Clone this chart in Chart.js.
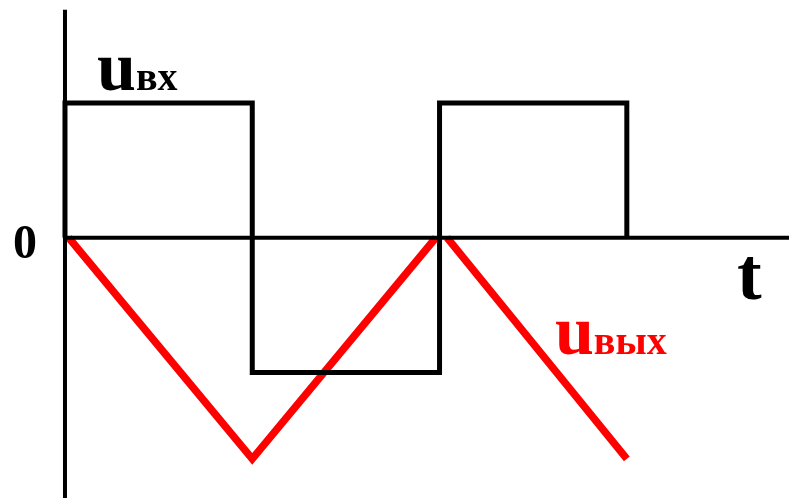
<!DOCTYPE html>
<html>
<head>
<meta charset="utf-8">
<script src="https://cdn.jsdelivr.net/npm/chart.js@4.4.1/dist/chart.umd.min.js"></script>
<style>
  html, body { margin: 0; padding: 0; background: #fff; }
  #wrap { width: 789px; height: 498px; }
</style>
</head>
<body>
<div id="wrap"><canvas id="chart"></canvas></div>
<script>
// time in half-periods, voltage in units of input amplitude
const inT  = [0, 0, 1, 1, 2, 2, 3, 3];
const inU  = [0, 1, 1, -1, -1, 1, 1, 0];
const outT = [0.02, 1.0, 1.98, 2.01, 2.04, 3.0];
const outU = [0, -1.64, 0, null, 0, -1.64];
const axisVT = [0, 0];
const axisVU = [1.69, -1.93];
const axisHT = [0, 3.87];
const axisHU = [0, 0];

// labels: text, sub-text, t, u, colour
const labels = [
    { main: 'u', sub: 'вх',  t: 0.171, u: 1.096, color: '#000' },
    { main: '0', sub: '',    t: -0.277, u: -0.148, color: '#000' },
    { main: 't', sub: '',    t: 3.588, u: -0.452, color: '#000' },
    { main: 'u', sub: 'вых', t: 2.616, u: -0.859, color: '#ff0000' }
];

function pts(xs, ys) {
    return xs.map(function (x, i) { return { x: x, y: ys[i] }; });
}

const textPlugin = {
    id: 'textLabels',
    afterDatasetsDraw: function (chart) {
        const ctx = chart.ctx;
        const sx = chart.scales.x, sy = chart.scales.y;
        ctx.save();
        ctx.textBaseline = 'alphabetic';
        ctx.textAlign = 'left';
        labels.forEach(function (l) {
            let px = sx.getPixelForValue(l.t);
            const py = sy.getPixelForValue(l.u);
            ctx.fillStyle = l.color;
            const big = l.main === '0' ? 48 : (l.main === 't' ? 74 : 70);
            ctx.font = 'bold ' + big + 'px "Liberation Serif", "Times New Roman", serif';
            ctx.fillText(l.main, px, py);
            if (l.sub) {
                px += ctx.measureText(l.main).width;
                ctx.font = 'bold 40px "Liberation Serif", "Times New Roman", serif';
                ctx.fillText(l.sub, px, py);
            }
        });
        ctx.restore();
    }
};

const common = { pointRadius: 0, tension: 0, fill: false, borderJoinStyle: 'miter', borderCapStyle: 'butt' };

new Chart(document.getElementById('chart'), {
    type: 'line',
    data: {
        datasets: [
            Object.assign({ data: pts(axisVT, axisVU), borderColor: '#000', borderWidth: 4 }, common),
            Object.assign({ data: pts(axisHT, axisHU), borderColor: '#000', borderWidth: 4 }, common),
            Object.assign({ data: pts(inT, inU), borderColor: '#000', borderWidth: 5 }, common),
            Object.assign({ data: pts(outT, outU), borderColor: '#ff0000', borderWidth: 7.5, spanGaps: false }, common)
        ]
    },
    options: {
        responsive: true,
        maintainAspectRatio: false,
        animation: false,
        layout: { padding: 0 },
        plugins: { legend: { display: false }, tooltip: { enabled: false } },
        scales: {
            x: { type: 'linear', min: -0.347, max: 3.866, display: false },
            y: { type: 'linear', min: -1.93, max: 1.763, display: false }
        }
    },
    plugins: [textPlugin]
});
</script>
</body>
</html>
